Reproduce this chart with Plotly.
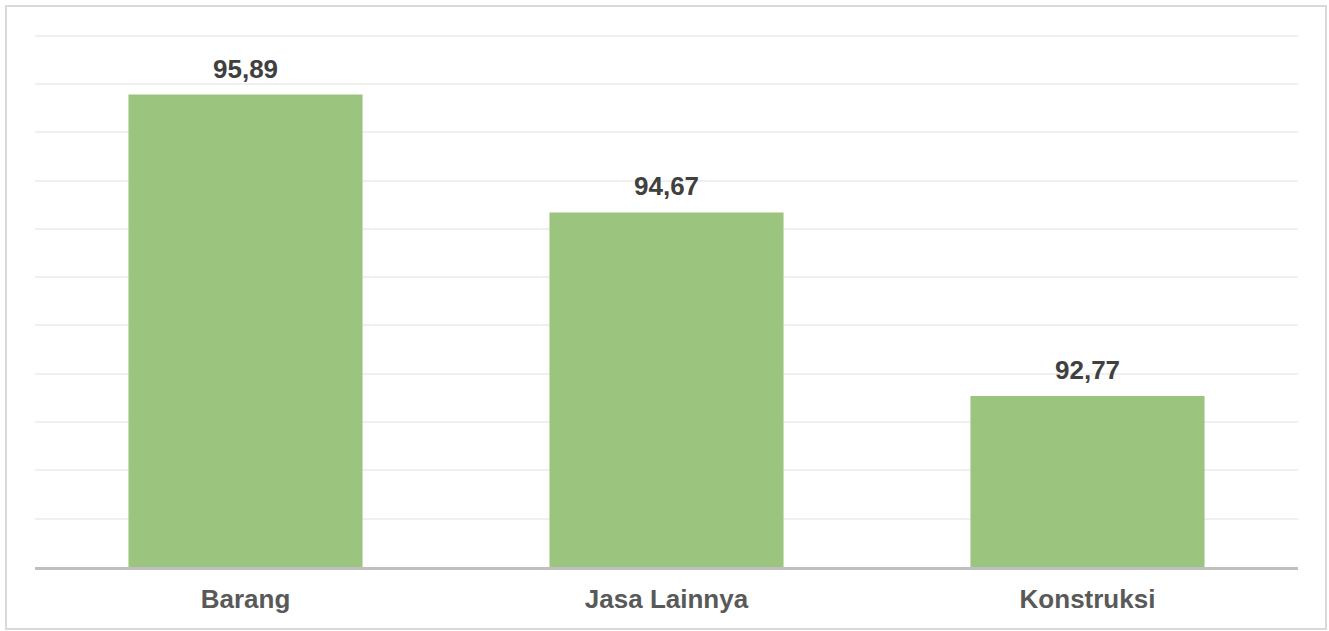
import plotly.graph_objects as go

categories = ["Barang", "Jasa Lainnya", "Konstruksi"]
values = [95.89, 94.67, 92.77]
value_labels = ["95,89", "94,67", "92,77"]

W, H = 1329, 631
L, R, T, B = 35, 31, 26, 64
pw, ph = W - L - R, H - T - B

fig = go.Figure()
fig.add_trace(go.Bar(
    x=categories, y=values,
    marker=dict(color="#9BC47F", line=dict(width=0)),
    width=0.556,
    hoverinfo="skip",
))

for c, v, t in zip(categories, values, value_labels):
    fig.add_annotation(
        x=c, y=v, text="<b>%s</b>" % t, showarrow=False,
        yanchor="bottom", yshift=9,
        font=dict(family="Liberation Sans, Arial, sans-serif", size=26, color="#404040"),
    )

def px_x(p):
    return (p - L) / pw

def px_y(p):
    return (H - B - p) / ph

fig.add_shape(type="rect", xref="paper", yref="paper",
              x0=px_x(6), x1=px_x(1326), y0=px_y(629), y1=px_y(6),
              line=dict(color="#D9D9D9", width=2), layer="below")

fig.update_layout(
    width=W, height=H,
    margin=dict(l=L, r=R, t=T, b=B),
    paper_bgcolor="white", plot_bgcolor="white",
    showlegend=False,
    xaxis=dict(
        showgrid=False, showline=True, linecolor="#BFBFBF", linewidth=2.5,
        ticks="", ticklabelstandoff=7,
        tickfont=dict(family="Liberation Sans, Arial, sans-serif", size=26, color="#595959"),
        tickprefix="<b>", ticksuffix="</b>",
        fixedrange=True,
    ),
    yaxis=dict(
        range=[91, 96.6], dtick=0.5, tick0=91,
        showgrid=True, gridcolor="#F0F0F0", gridwidth=1.5,
        showticklabels=False, zeroline=False, showline=False, ticks="",
        fixedrange=True,
    ),
)

fig.write_html("out.html", config={"displayModeBar": False},
               post_script="document.body.style.margin='0';document.body.style.overflow='hidden';")
